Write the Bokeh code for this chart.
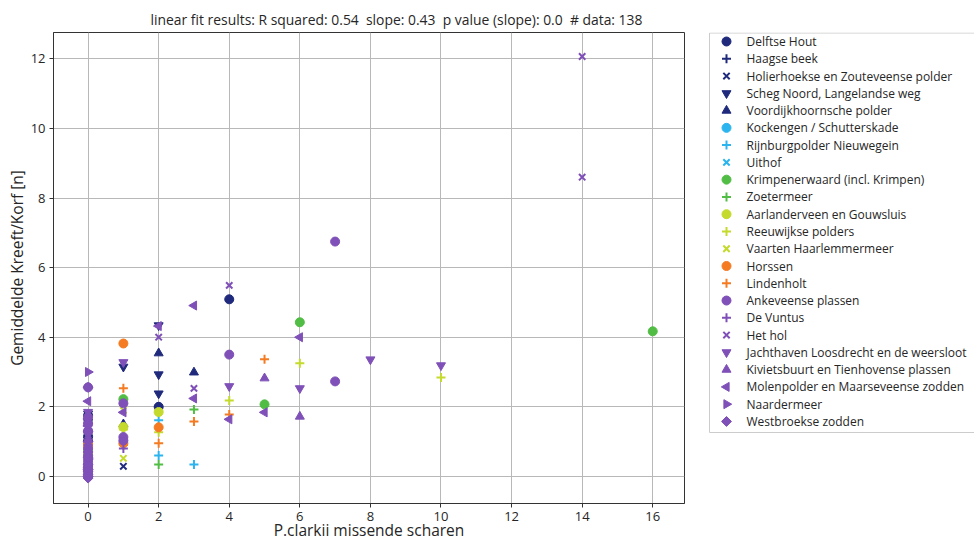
import math
from bokeh.plotting import figure
from bokeh.models import ColumnDataSource, Range1d, FixedTicker
from bokeh.layouts import row
from bokeh.core.properties import value
from bokeh.embed import file_html
from bokeh.resources import INLINE

# ---------------- data ----------------
title_text = "linear fit results: R squared: 0.54\u00a0 slope: 0.43\u00a0 p value (slope): 0.0\u00a0 # data: 138"
x_label = "P.clarkii missende scharen"
y_label = "Gemiddelde Kreeft/Korf [n]"
x_ticks = [0, 2, 4, 6, 8, 10, 12, 14, 16]
y_ticks = [0, 2, 4, 6, 8, 10, 12]

names = [
    "Delftse Hout", "Haagse beek", "Holierhoekse en Zouteveense polder",
    "Scheg Noord, Langelandse weg", "Voordijkhoornsche polder",
    "Kockengen / Schutterskade", "Rijnburgpolder Nieuwegein", "Uithof",
    "Krimpenerwaard (incl. Krimpen)", "Zoetermeer", "Aarlanderveen en Gouwsluis",
    "Reeuwijkse polders", "Vaarten Haarlemmermeer", "Horssen", "Lindenholt",
    "Ankeveense plassen", "De Vuntus", "Het hol",
    "Jachthaven Loosdrecht en de weersloot", "Kivietsbuurt en Tienhovense plassen",
    "Molenpolder en Maarseveense zodden", "Naardermeer", "Westbroekse zodden",
]

x_delftse = [4, 2, 0, 0, 0]
y_delftse = [5.09, 2.0, 1.75, 1.15, 1.0]
x_haagse = [2, 0, 0]
y_haagse = [2.0, 1.6, 0.9]
x_holier = [1, 0, 0]
y_holier = [0.29, 1.7, 1.2]
x_scheg = [2, 2, 2, 1, 0, 0]
y_scheg = [4.34, 2.93, 2.38, 3.15, 1.8, 1.05]
x_voord = [3, 2, 1, 0, 0]
y_voord = [2.99, 3.54, 1.5, 1.7, 1.1]
x_kock = [0, 0]
y_kock = [0.62, 0.75]
x_rijn = [3, 2, 2, 0]
y_rijn = [0.34, 1.61, 0.6, 0.7]
x_uithof = [0, 0]
y_uithof = [0.65, 0.8]
x_krimpen = [16, 6, 5, 1, 0, 0]
y_krimpen = [4.17, 4.43, 2.07, 2.22, 0.72, 0.6]
x_zoeter = [3, 2, 0]
y_zoeter = [1.92, 0.34, 0.7]
x_aarl = [2, 1, 0]
y_aarl = [1.85, 1.42, 0.68]
x_reeuw = [10, 6, 4, 2, 1, 0]
y_reeuw = [2.84, 3.25, 2.18, 1.27, 1.35, 0.65]
x_vaarten = [2, 1, 1, 0]
y_vaarten = [1.85, 1.9, 0.52, 0.6]
x_horssen = [2, 1, 1, 0, 0]
y_horssen = [1.41, 3.82, 0.95, 0.92, 0.85]
x_linden = [5, 4, 3, 2, 1, 1, 0, 0]
y_linden = [3.37, 1.78, 1.58, 0.95, 2.53, 0.9, 0.95, 0.8]
x_ankev = [7, 7, 4, 1, 1, 1, 0, 0, 0, 0, 0, 0, 0, 0, 0, 0, 0, 0]
y_ankev = [6.75, 2.73, 3.5, 2.1, 1.13, 1.03, 2.56, 1.5, 1.3, 0.5, 0.3, 0.1,
           0.0, 0.2, 0.4, 0.6, 0.8, 1.7]
x_vuntus = [1, 0, 0, 0, 0, 0, 0, 0]
y_vuntus = [0.8, 1.55, 1.35, 1.25, 0.9, 0.45, 0.25, 0.15]
x_hethol = [14, 14, 4, 3, 2, 0, 0, 0, 0]
y_hethol = [12.07, 8.6, 5.49, 2.53, 4.0, 1.4, 0.4, 1.05, 0.15]
x_jacht = [10, 8, 6, 4, 1, 0, 0, 0, 0]
y_jacht = [3.19, 3.36, 2.53, 2.59, 3.28, 1.85, 1.2, 1.0, 0.3]
x_kiviet = [6, 5, 0, 0, 0]
y_kiviet = [1.72, 2.82, 1.6, 0.35, 0.75]
x_molen = [6, 5, 4, 3, 3, 2, 1, 0, 0, 0, 0]
y_molen = [4.0, 1.84, 1.64, 4.91, 2.24, 4.32, 1.84, 2.16, 1.45, 1.65, 0.25]
x_naarder = [0, 0]
y_naarder = [3.0, 0.5]
x_westb = [0, 0, 0, 0, 0, 0, 0, 0, 0, 0, 0]
y_westb = [2.56, 1.3, 1.0, 0.2, 0.0, -0.05, 0.05, 0.15, 0.35, 0.55, 0.7]

series_x = [x_delftse, x_haagse, x_holier, x_scheg, x_voord, x_kock, x_rijn,
            x_uithof, x_krimpen, x_zoeter, x_aarl, x_reeuw, x_vaarten,
            x_horssen, x_linden, x_ankev, x_vuntus, x_hethol, x_jacht,
            x_kiviet, x_molen, x_naarder, x_westb]
series_y = [y_delftse, y_haagse, y_holier, y_scheg, y_voord, y_kock, y_rijn,
            y_uithof, y_krimpen, y_zoeter, y_aarl, y_reeuw, y_vaarten,
            y_horssen, y_linden, y_ankev, y_vuntus, y_hethol, y_jacht,
            y_kiviet, y_molen, y_naarder, y_westb]

# ---------------- styles ----------------
NAVY = "#1f2a7c"
LBLUE = "#2cb4ee"
GREEN = "#52bd45"
YGREEN = "#c4da2c"
ORANGE = "#f47b22"
PURPLE = "#7f50b8"
series_color = [NAVY] * 5 + [LBLUE] * 3 + [GREEN] * 2 + [YGREEN] * 3 + [ORANGE] * 2 + [PURPLE] * 8
M_CIRC = ("circle", 0.0)
M_PLUS = ("cross", 0.0)
M_X = ("x", 0.0)
M_DOWN = ("inverted_triangle", 0.0)
M_UP = ("triangle", 0.0)
M_LEFT = ("triangle", math.pi / 2)
M_RIGHT = ("triangle", -math.pi / 2)
M_DIAM = ("square", math.pi / 4)
series_marker = [M_CIRC, M_PLUS, M_X, M_DOWN, M_UP,
                 M_CIRC, M_PLUS, M_X,
                 M_CIRC, M_PLUS,
                 M_CIRC, M_PLUS, M_X,
                 M_CIRC, M_PLUS,
                 M_CIRC, M_PLUS, M_X, M_DOWN, M_UP, M_LEFT, M_RIGHT, M_DIAM]

FONT = "Open Sans"
TXT = "#262626"


def add_marker(fig, src, mk, ang, col):
    if mk in ("cross", "x"):
        return fig.scatter("x", "y", source=src, marker=mk, size=9, line_color=col,
                           line_width=2, fill_color=None)
    if mk == "square":
        return fig.scatter("x", "y", source=src, marker=mk, angle=ang, size=7,
                           line_color=col, fill_color=col)
    return fig.scatter("x", "y", source=src, marker=mk, angle=ang, size=9,
                       line_color=col, fill_color=col)


# ---------------- main plot ----------------
p = figure(
    frame_width=631, height=543,
    min_border_left=53, min_border_right=5, min_border_top=32, min_border_bottom=40,
    x_range=Range1d(-0.98, 16.9), y_range=Range1d(-0.78, 12.76),
    output_backend="svg", toolbar_location=None,
    background_fill_color="white", border_fill_color="white",
)
p.title.text = title_text
p.title.align = "left"
p.title.offset = 97
p.title.text_font = FONT
p.title.text_font_size = "13.9px"
p.title.text_font_style = "normal"
p.title.text_color = TXT
p.title.standoff = 7

p.outline_line_color = "#333333"
p.outline_line_width = 1
p.outline_line_alpha = 1.0

for ax in (p.xaxis, p.yaxis):
    ax.axis_line_color = "#333333"
    ax.major_tick_out = 4
    ax.major_tick_in = 0
    ax.minor_tick_line_color = None
    ax.major_tick_line_color = "#333333"
    ax.major_label_text_font = FONT
    ax.major_label_text_font_size = "13px"
    ax.major_label_text_color = TXT
    ax.axis_label_text_font = FONT
    ax.axis_label_text_font_size = "15.5px"
    ax.axis_label_text_font_style = "normal"
    ax.axis_label_text_color = TXT
    ax.major_label_standoff = 4
    ax.axis_label_standoff = 0
p.xaxis.axis_label_standoff = -5

p.xaxis.ticker = FixedTicker(ticks=x_ticks)
p.yaxis.ticker = FixedTicker(ticks=y_ticks)
p.xaxis.axis_label = x_label
p.yaxis.axis_label = y_label

p.grid.grid_line_color = "#b8b8b8"
p.grid.grid_line_width = 1

for xs, ys, col, (mk, ang) in zip(series_x, series_y, series_color, series_marker):
    add_marker(p, ColumnDataSource(dict(x=xs, y=ys)), mk, ang, col)

# ---------------- legend panel (pixel-like coordinates; frame aligned to main frame) ----------------
LEG_W = 285
FRAME_TOP, FRAME_BOTTOM = 32, 503
lg = figure(
    width=LEG_W, height=543, x_range=Range1d(0, LEG_W),
    y_range=Range1d(FRAME_BOTTOM, FRAME_TOP),
    x_axis_type=None, y_axis_type=None, min_border=0,
    output_backend="svg", toolbar_location=None,
    background_fill_color="white", border_fill_color="white",
)
lg.grid.visible = False
lg.outline_line_color = None

box_left, box_top, box_bottom = 20, 32.5, 432
first_y, step = 41.0, 17.27
glyph_x, label_x = 37, 57

lg.quad(left=[box_left], right=[LEG_W + 10], top=[box_top], bottom=[box_bottom],
        fill_color="white", line_color="#cccccc", line_width=1)

ys_leg = [first_y + i * step for i in range(len(names))]
for i, (col, (mk, ang)) in enumerate(zip(series_color, series_marker)):
    add_marker(lg, ColumnDataSource(dict(x=[glyph_x], y=[ys_leg[i]])), mk, ang, col)

lg.text(x=[label_x] * len(names), y=ys_leg, text=names,
        text_font=value(FONT), text_font_size="12px", text_color=TXT,
        text_baseline="middle", text_align="left")

layout = row(p, lg, spacing=0)
open("out.html", "w").write(file_html(layout, INLINE))
